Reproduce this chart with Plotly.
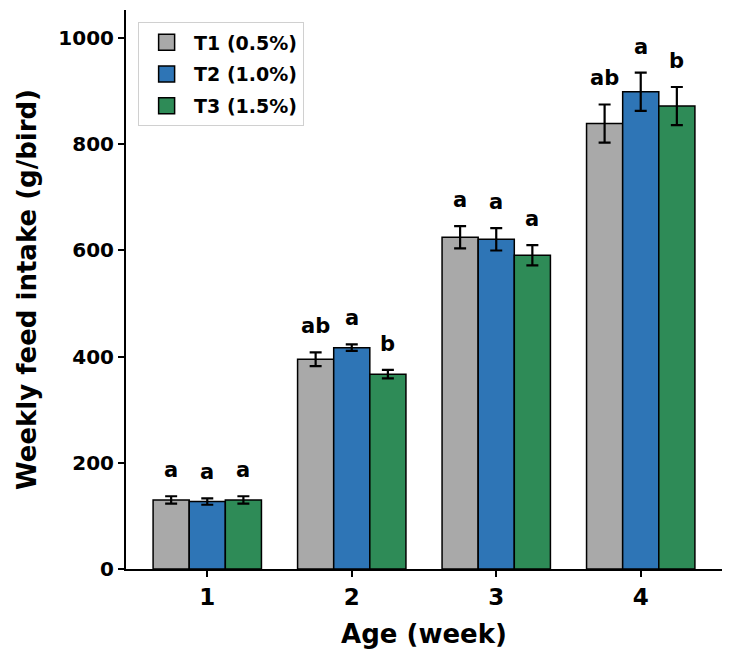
import plotly.graph_objects as go

# data
weeks = ['1', '2', '3', '4']
groups = ['T1 (0.5%)', 'T2 (1.0%)', 'T3 (1.5%)']
means = {
    'T1 (0.5%)': [130, 395, 625, 839],
    'T2 (1.0%)': [127, 417, 621, 899],
    'T3 (1.5%)': [130, 367, 591, 872],
}
sds = {
    'T1 (0.5%)': [7, 13, 21, 36],
    'T2 (1.0%)': [6, 6, 21, 36],
    'T3 (1.5%)': [7, 8, 19, 36],
}
letters = {
    'T1 (0.5%)': ['a', 'ab', 'a', 'ab'],
    'T2 (1.0%)': ['a', 'a', 'a', 'a'],
    'T3 (1.5%)': ['a', 'b', 'a', 'b'],
}
colors = ['#A9A9A9', '#2E75B6', '#2E8B57']

font_family = 'DejaVu Sans'
bold = dict(family=font_family, color='black', weight='bold')

fig = go.Figure()
for g, c in zip(groups, colors):
    fig.add_trace(go.Bar(
        x=weeks,
        y=means[g],
        name=g,
        marker=dict(color=c, line=dict(color='black', width=1.5)),
        error_y=dict(type='data', array=sds[g], color='black', thickness=2.2, width=6),
        offsetgroup=g,
        showlegend=False,
    ))
    # legend-only swatch so the square can be larger than the bar default
    fig.add_trace(go.Scatter(
        x=[None], y=[None],
        mode='markers',
        name=g,
        legendgroup=g,
        marker=dict(symbol='square', size=16, color=c, line=dict(color='black', width=1.5)),
    ))

# significance letters above each error bar
offsets = [-0.25, 0, 0.25]
for i, g in enumerate(groups):
    for j, w in enumerate(weeks):
        fig.add_annotation(
            x=j + offsets[i],
            y=means[g][j] + sds[g][j],
            text=letters[g][j],
            showarrow=False,
            yanchor='bottom',
            yshift=12,
            font=dict(size=21, **bold),
        )

# page body adds an 8px offset, so margins are trimmed to compensate
fig.update_layout(
    width=732,
    height=660,
    margin=dict(l=118, r=18, t=2, b=99),
    paper_bgcolor='white',
    plot_bgcolor='white',
    barmode='group',
    bargap=0.25,
    bargroupgap=0,
    font=dict(family=font_family, color='black'),
    legend=dict(
        x=0.02, y=0.978, xanchor='left', yanchor='top',
        bgcolor='white', bordercolor='#D0D0D0', borderwidth=1.2,
        font=dict(size=19, **bold),
        itemsizing='trace',
        itemwidth=45,
        tracegroupgap=4,
    ),
    showlegend=True,
)

fig.update_xaxes(
    type='category',
    range=[-0.5625, 3.5625],
    automargin=False,
    showline=True, linecolor='black', linewidth=2,
    ticks='outside', ticklen=6, tickwidth=2, tickcolor='black',
    tickfont=dict(size=23, **bold),
    title=dict(text='Age (week)', font=dict(size=26, **bold), standoff=16),
    showgrid=False, zeroline=False,
)
fig.update_yaxes(
    range=[0, 1053],
    tickvals=[0, 200, 400, 600, 800, 1000],
    automargin=False,
    showline=True, linecolor='black', linewidth=2,
    ticks='outside', ticklen=6, tickwidth=2, tickcolor='black',
    tickfont=dict(size=20, **bold),
    title=dict(text='Weekly feed intake (g/bird)', font=dict(size=26, **bold), standoff=14),
    showgrid=False, zeroline=False,
)

fig.write_html('out.html')
